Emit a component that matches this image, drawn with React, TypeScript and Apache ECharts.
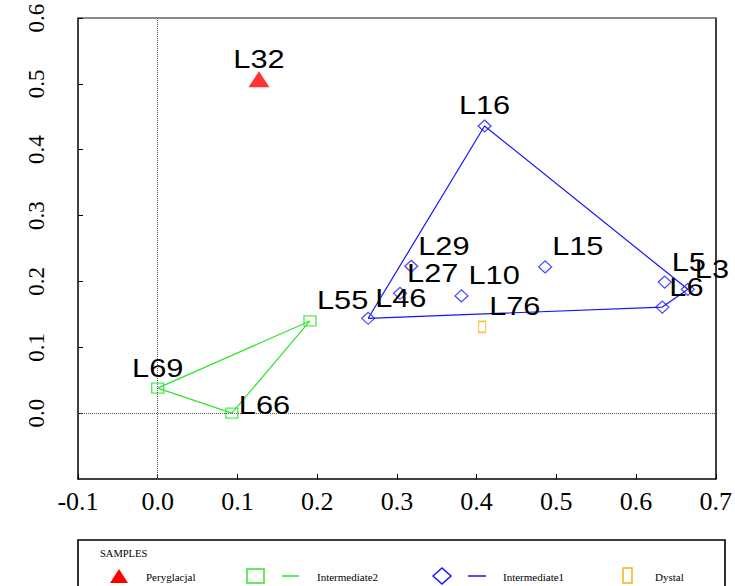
import React, { useEffect, useRef } from "react";
import * as echarts from "echarts";

// ---- data ----
const sampleNames = ["L32", "L16", "L29", "L15", "L27", "L10", "L46", "L5", "L3", "L6", "L76", "L55", "L69", "L66"];
const sampleGroups = ["Peryglacjal", "Intermediate1", "Intermediate1", "Intermediate1", "Intermediate1", "Intermediate1", "Intermediate1", "Intermediate1", "Intermediate1", "Intermediate1", "Dystal", "Intermediate2", "Intermediate2", "Intermediate2"];
const xValues = [0.127, 0.41, 0.318, 0.486, 0.304, 0.381, 0.264, 0.636, 0.665, 0.633, 0.407, 0.191, 0.0, 0.093];
const yValues = [0.507, 0.436, 0.223, 0.222, 0.182, 0.178, 0.144, 0.199, 0.188, 0.161, 0.131, 0.14, 0.038, 0.0];
const hullIntermediate1 = ["L46", "L16", "L3", "L6", "L46"];
const hullIntermediate2 = ["L55", "L69", "L66", "L55"];
const xTicks = [-0.1, 0.0, 0.1, 0.2, 0.3, 0.4, 0.5, 0.6, 0.7];
const yTicks = [-0.1, 0.0, 0.1, 0.2, 0.3, 0.4, 0.5, 0.6];
const legendTitle = "SAMPLES";

// ---- styles ----
const RED = "#ff0000";
const GREEN = "#2ee62e";
const BLUE = "#1414ff";
const ORANGE = "#f5b31b";
const centeredLabels: Record<string, boolean> = { L32: true, L16: true, L69: true };
const lowLabels: Record<string, boolean> = { L66: true };

function pointsOf(group: string) {
  const out: number[][] = [];
  sampleNames.forEach((n, i) => {
    if (sampleGroups[i] === group) out.push([xValues[i], yValues[i]]);
  });
  return out;
}
function hullOf(names: string[]) {
  return names.map((n) => {
    const i = sampleNames.indexOf(n);
    return [xValues[i], yValues[i]];
  });
}
const fmt = (v: number) => (Math.abs(v) < 1e-9 ? "0.0" : v.toFixed(1));

export default function App() {
  const ref = useRef<HTMLDivElement>(null);
  useEffect(() => {
    if (!ref.current) return;
    const chart = echarts.init(ref.current, undefined, { renderer: "svg" });
    const serif = "Liberation Serif";
    const xMin = xTicks[0], xMax = xTicks[xTicks.length - 1];
    const yMin = yTicks[0], yMax = yTicks[yTicks.length - 1];
    const option: any = {
      animation: false,
      backgroundColor: "#fff",
      grid: { left: 78, top: 18, right: 16, bottom: 107, containLabel: false },
      xAxis: [
        {
          type: "value", min: xMin, max: xMax, interval: 0.1, position: "bottom",
          axisLine: { show: true, onZero: false, lineStyle: { color: "#000", width: 1.5 } },
          axisTick: { show: true, inside: true, length: 5, lineStyle: { color: "#000" } },
          axisLabel: { formatter: fmt, fontFamily: serif, fontSize: 26, color: "#000", margin: 9 },
          splitLine: { show: false },
        },
        {
          type: "value", min: xMin, max: xMax, position: "top",
          axisLine: { show: true, onZero: false, lineStyle: { color: "#666", width: 1.5 } },
          axisTick: { show: false }, axisLabel: { show: false }, splitLine: { show: false },
        },
      ],
      yAxis: [
        {
          type: "value", min: yMin, max: yMax, interval: 0.1, position: "left",
          axisLine: { show: true, onZero: false, lineStyle: { color: "#000", width: 1.5 } },
          axisTick: { show: true, inside: true, length: 5, lineStyle: { color: "#000" } },
          axisLabel: { formatter: fmt, fontFamily: serif, fontSize: 23, color: "#000", rotate: 90, margin: 30, showMinLabel: false },
          splitLine: { show: false },
        },
        {
          type: "value", min: yMin, max: yMax, position: "right",
          axisLine: { show: true, onZero: false, lineStyle: { color: "#000", width: 1.5 } },
          axisTick: { show: false }, axisLabel: { show: false }, splitLine: { show: false },
        },
      ],
      series: [
        {
          type: "line", name: "hull2", data: hullOf(hullIntermediate2), showSymbol: false, symbol: "none",
          lineStyle: { color: GREEN, width: 1.2 }, silent: true, z: 2,
          markLine: {
            silent: true, symbol: "none", label: { show: false },
            lineStyle: { type: "dotted", color: "#555", width: 1 },
            data: [{ xAxis: 0 }, { yAxis: 0 }],
          },
        },
        {
          type: "line", name: "hull1", data: hullOf(hullIntermediate1), showSymbol: false, symbol: "none",
          lineStyle: { color: BLUE, width: 1.2 }, silent: true, z: 2,
        },
        {
          type: "scatter", name: "Peryglacjal", data: pointsOf("Peryglacjal"), symbol: "triangle",
          symbolSize: [21, 16], itemStyle: { color: RED }, z: 3,
        },
        {
          type: "scatter", name: "Intermediate2", data: pointsOf("Intermediate2"), symbol: "rect",
          symbolSize: [12, 10], itemStyle: { color: "rgba(0,0,0,0)", borderColor: GREEN, borderWidth: 1.3 }, z: 3,
        },
        {
          type: "scatter", name: "Intermediate1", data: pointsOf("Intermediate1"), symbol: "diamond",
          symbolSize: [13, 12], itemStyle: { color: "rgba(0,0,0,0)", borderColor: BLUE, borderWidth: 1.2 }, z: 3,
        },
        {
          type: "scatter", name: "Dystal", data: pointsOf("Dystal"), symbol: "rect",
          symbolSize: [7, 11], itemStyle: { color: "rgba(0,0,0,0)", borderColor: ORANGE, borderWidth: 1.3 }, z: 3,
        },
        {
          type: "custom", name: "labels", coordinateSystem: "cartesian2d", silent: true, z: 5, clip: false,
          data: sampleNames.map((n, i) => [xValues[i], yValues[i]]),
          renderItem: (params: any, api: any) => {
            const p = api.coord([api.value(0), api.value(1)]);
            const name = sampleNames[params.dataIndex];
            const centered = !!centeredLabels[name];
            const low = !!lowLabels[name];
            return {
              type: "text",
              x: p[0] + (centered ? 0 : 7),
              y: p[1] + (low ? -8 : -20),
              scaleX: 1.23,
              style: {
                text: name, fontSize: 25, fontFamily: "Liberation Sans", fill: "#000",
                align: centered ? "center" : "left", verticalAlign: "middle",
              },
            };
          },
        },
      ],
      graphic: [
        { type: "rect", shape: { x: 78, y: 540, width: 647, height: 70 }, style: { fill: "#fff", stroke: "#000", lineWidth: 1.6 } },
        { type: "text", x: 100, y: 553, style: { text: legendTitle, font: `10.5px ${serif}`, fill: "#000", verticalAlign: "middle" } },
        { type: "polygon", shape: { points: [[110, 583], [128, 583], [119, 569]] }, style: { fill: RED } },
        { type: "text", x: 146, y: 577, style: { text: "Peryglacjal", font: `11px ${serif}`, fill: "#000", verticalAlign: "middle" } },
        { type: "rect", shape: { x: 247, y: 569, width: 17, height: 14 }, style: { fill: "none", stroke: GREEN, lineWidth: 1.5 } },
        { type: "line", shape: { x1: 282, y1: 576, x2: 299, y2: 576 }, style: { stroke: GREEN, lineWidth: 1.5 } },
        { type: "text", x: 317, y: 577, style: { text: "Intermediate2", font: `11px ${serif}`, fill: "#000", verticalAlign: "middle" } },
        { type: "polygon", shape: { points: [[433, 576], [442, 568], [451, 576], [442, 584]] }, style: { fill: "none", stroke: BLUE, lineWidth: 1.5 } },
        { type: "line", shape: { x1: 468, y1: 576, x2: 486, y2: 576 }, style: { stroke: BLUE, lineWidth: 1.5 } },
        { type: "text", x: 503, y: 577, style: { text: "Intermediate1", font: `11px ${serif}`, fill: "#000", verticalAlign: "middle" } },
        { type: "rect", shape: { x: 623, y: 568, width: 9, height: 15 }, style: { fill: "none", stroke: ORANGE, lineWidth: 1.5 } },
        { type: "text", x: 655, y: 577, style: { text: "Dystal", font: `11px ${serif}`, fill: "#000", verticalAlign: "middle" } },
      ],
    };
    chart.setOption(option);
    return () => chart.dispose();
  }, []);
  return <div ref={ref} style={{ position: "fixed", left: 0, top: 0, width: 735, height: 586 }} />;
}
